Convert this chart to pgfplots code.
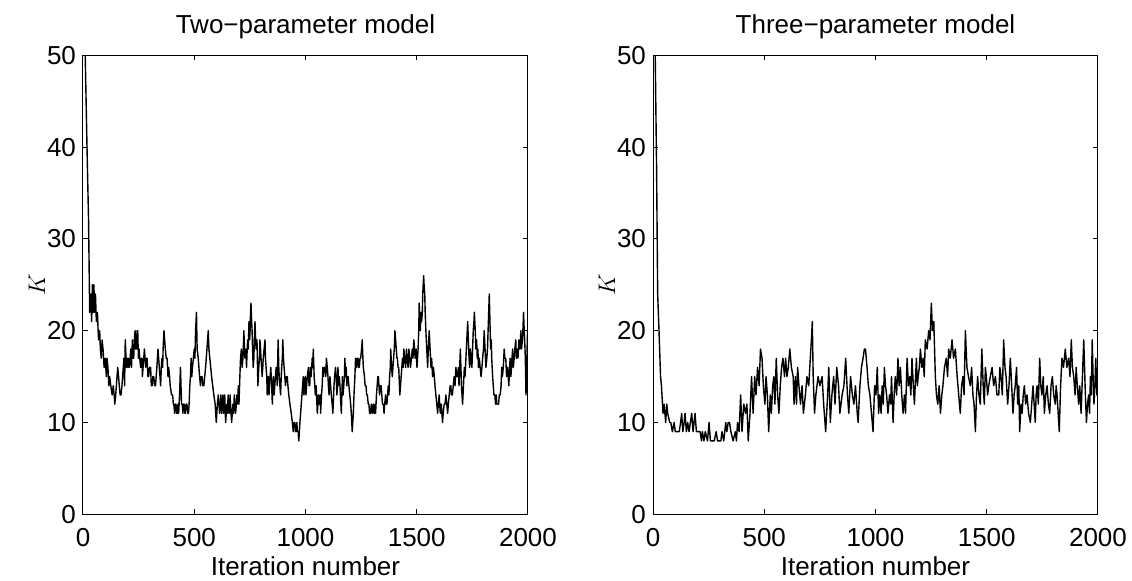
\documentclass[border=0pt]{standalone}
\usepackage{pgfplots}
\pgfplotsset{compat=1.18}
\usepackage{fontspec}
\setmainfont{Liberation Sans}

\pgfplotsset{
  mcmc/.style={
    scale only axis,
    width=222.5pt, height=229.5pt,
    xmin=0, xmax=2000, ymin=0, ymax=50,
    xtick={0,500,1000,1500,2000},
    ytick={0,10,20,30,40,50},
    tick align=inside,
    major tick length=2.6pt,
    axis line style={line width=0.5pt},
    every tick/.style={black, line width=0.5pt},
    /pgf/number format/assume math mode=true,
    /pgf/number format/1000 sep={},
    tick label style={font=\fontsize{13}{15}\selectfont},
    xticklabel style={yshift=-3.5pt},
    label style={font=\fontsize{13}{15}\selectfont},
    title style={font=\fontsize{13}{15}\selectfont, at={(0.5,1)}, anchor=base, yshift=5pt},
    xlabel style={at={(0.5,0)}, anchor=base, yshift=-30.8pt},
    ylabel style={at={(0,0.5)}, anchor=center, rotate=0, yshift=23pt},
    xlabel={Iteration number},
    ylabel={$K$},
    clip=true,
  },
  trace/.style={black, line width=0.7pt, mark=none, line join=round}
}

\begin{document}
\begin{tikzpicture}
\useasboundingbox (-41.5pt,-33.35pt) rectangle (524.5pt,257.15pt);

\begin{axis}[mcmc, at={(0,0)}, anchor=south west, title={Two{\char"2212}parameter model}]
\addplot[trace] coordinates {
(1,70)(10,50)(18,40)(25,32)(30,22)(33,24)(36,23)(39,21)(42,25)(46,22)(49,25)(52,22)(56,24)(60,21)(65,22)(68,20)(70,19)(75,20)(78,18)(82,17)(86,19)(90,18)(95,16)(100,17)(105,15)(108,17)(112,16)(116,14)(120,15)(125,14)(131,13)(136,14)(140,13)(143,12)(147,13)(150,14)(156,16)(160,15)(163,14)(167,13)(171,13)(175,14)(178,15)(184,17)(187,14)(190,19)(195,16)(198,17)(202,16)(205,17)(208,16)(212,17)(215,18)(218,16)(222,19)(225,17)(228,17)(231,19)(234,20)(237,18)(240,18)(243,20)(246,20)(249,17)(252,18)(255,17)(259,16)(262,17)(265,17)(267,15)(270,16)(273,17)(276,18)(279,17)(282,16)(285,17)(288,17)(292,15)(295,15)(299,16)(304,16)(307,14)(311,14)(314,15)(318,15)(322,14)(326,14)(329,15)(332,16)(337,18)(340,17)(343,16)(346,15)(349,14)(352,16)(355,17)(358,16)(360,18)(362,19)(364,20)(367,19)(370,18)(374,17)(378,17)(382,15)(385,16)(389,15)(392,14)(398,13)(403,13)(406,12)(408,12)(412,11)(415,12)(418,12)(421,11)(424,11)(427,12)(430,11)(434,13)(438,16)(443,12)(446,12)(449,11)(452,12)(455,12)(458,11)(460,11)(464,12)(467,12)(471,11)(474,11)(477,12)(480,14)(483,15)(486,17)(489,15)(492,16)(496,17)(500,18)(503,17)(506,20)(510,22)(513,18)(518,17)(521,16)(524,15)(528,14)(531,15)(535,15)(539,14)(543,14)(547,15)(551,16)(554,17)(557,18)(560,19)(563,20)(566,18)(570,17)(574,16)(578,15)(583,14)(588,13)(594,12)(599,10)(604,12)(608,13)(611,12)(614,11)(617,12)(620,13)(623,11)(626,12)(629,13)(632,11)(635,12)(637,13)(641,10)(644,11)(647,12)(650,11)(652,13)(655,12)(658,11)(661,13)(663,12)(668,10)(671,11)(674,12)(677,11)(680,13)(683,12)(686,11)(689,12)(692,13)(695,12)(698,14)(701,12)(705,15)(708,17)(712,18)(715,16)(719,17)(723,20)(726,18)(728,17)(732,18)(735,16)(738,18)(740,19)(743,18)(746,21)(749,19)(751,20)(753,22)(755,23)(758,21)(760,20)(762,18)(765,16)(768,17)(770,19)(773,21)(776,19)(778,18)(782,19)(786,14)(790,16)(793,17)(795,19)(798,18)(800,17)(803,16)(805,15)(808,16)(810,17)(814,18)(818,19)(820,17)(823,16)(826,15)(828,13)(831,14)(833,15)(836,13)(838,14)(841,15)(844,16)(848,14)(851,12)(853,14)(856,15)(859,13)(862,14)(865,15)(868,16)(871,15)(873,14)(877,19)(880,16)(882,15)(885,14)(888,13)(891,15)(893,16)(896,17)(898,19)(901,17)(904,16)(907,15)(910,14)(914,15)(918,15)(921,14)(925,13)(930,12)(936,11)(941,10)(945,9)(948,10)(952,10)(955,9)(958,9)(961,10)(964,9)(967,9)(970,8)(975,10)(978,11)(981,12)(984,13)(987,14)(990,15)(993,13)(996,14)(999,15)(1002,13)(1005,14)(1008,15)(1013,16)(1016,14)(1019,14)(1022,16)(1025,15)(1028,16)(1030,17)(1033,16)(1035,18)(1039,15)(1042,14)(1044,13)(1048,14)(1053,11)(1056,12)(1058,13)(1063,12)(1066,13)(1068,11)(1072,13)(1075,14)(1078,16)(1080,15)(1084,16)(1088,16)(1091,15)(1094,17)(1098,16)(1101,15)(1103,14)(1106,13)(1110,15)(1113,14)(1116,13)(1120,12)(1123,11)(1128,14)(1131,15)(1135,16)(1138,15)(1141,13)(1144,14)(1146,16)(1149,14)(1152,15)(1155,14)(1157,13)(1161,11)(1166,15)(1169,13)(1172,14)(1175,15)(1177,17)(1180,15)(1183,16)(1186,14)(1189,15)(1192,15)(1195,14)(1199,13)(1203,12)(1206,11)(1210,9)(1215,11)(1218,13)(1222,15)(1225,17)(1227,16)(1230,16)(1233,17)(1236,17)(1239,16)(1242,16)(1245,17)(1248,17)(1252,18)(1255,19)(1258,17)(1260,16)(1265,15)(1268,14)(1272,14)(1275,13)(1278,13)(1282,12)(1285,12)(1288,11)(1292,11)(1296,12)(1300,11)(1305,12)(1308,11)(1310,11)(1313,12)(1315,11)(1319,13)(1322,14)(1325,15)(1328,15)(1330,14)(1333,13)(1336,14)(1340,14)(1343,13)(1346,12)(1350,12)(1353,11)(1356,12)(1360,13)(1363,12)(1366,12)(1369,13)(1372,14)(1375,13)(1378,15)(1381,16)(1383,18)(1387,16)(1390,15)(1393,16)(1396,17)(1399,18)(1402,20)(1405,19)(1408,18)(1411,17)(1413,17)(1416,16)(1419,16)(1424,13)(1427,14)(1430,15)(1433,16)(1436,17)(1439,16)(1442,18)(1446,17)(1450,16)(1454,18)(1457,17)(1461,16)(1465,18)(1468,17)(1472,16)(1476,17)(1480,18)(1483,17)(1487,19)(1490,18)(1493,17)(1497,18)(1501,16)(1506,18)(1509,20)(1511,23)(1514,21)(1516,20)(1519,22)(1522,21)(1525,22)(1527,24)(1531,26)(1533,25)(1536,24)(1538,22)(1541,20)(1545,18)(1549,16)(1552,18)(1556,20)(1560,18)(1564,16)(1567,17)(1571,15)(1575,16)(1579,15)(1582,14)(1586,13)(1590,12)(1594,11)(1597,12)(1601,13)(1603,12)(1606,11)(1610,12)(1613,11)(1616,10)(1619,11)(1623,12)(1627,12)(1631,13)(1635,12)(1639,11)(1642,12)(1646,13)(1650,14)(1653,14)(1656,13)(1660,13)(1664,14)(1668,15)(1672,14)(1676,16)(1680,15)(1683,15)(1687,16)(1690,14)(1693,16)(1696,18)(1701,14)(1706,12)(1710,14)(1714,16)(1717,15)(1721,17)(1725,19)(1729,21)(1732,19)(1735,17)(1738,16)(1741,18)(1744,17)(1748,16)(1751,18)(1754,20)(1757,21)(1759,22)(1763,20)(1766,18)(1769,19)(1772,17)(1775,18)(1777,16)(1781,17)(1785,16)(1789,15)(1793,16)(1796,17)(1800,18)(1803,20)(1807,18)(1811,16)(1815,17)(1818,18)(1822,21)(1826,24)(1829,21)(1832,18)(1835,19)(1837,17)(1841,15)(1844,14)(1847,13)(1851,13)(1854,12)(1857,13)(1860,12)(1864,12)(1868,12)(1871,13)(1875,13)(1879,14)(1882,16)(1885,15)(1889,16)(1893,18)(1896,17)(1900,17)(1904,15)(1908,16)(1911,15)(1914,14)(1917,16)(1920,17)(1923,15)(1926,16)(1928,17)(1931,18)(1934,16)(1938,17)(1941,18)(1945,19)(1948,17)(1952,18)(1955,17)(1959,19)(1961,18)(1963,18)(1966,19)(1968,20)(1971,18)(1975,19)(1977,20)(1980,22)(1983,20)(1985,19)(1988,17)(1991,13)(1994,16)(1996,18)(1998,20)(2000,16)
};
\end{axis}

\begin{axis}[mcmc, at={(285pt,0)}, anchor=south west, title={Three{\char"2212}parameter model}]
\addplot[trace] coordinates {
(1,70)(10,50)(16,38)(21,24)(27,20)(34,15)(38,14)(45,11)(50,12)(57,10)(62,12)(66,11)(75,10)(80,10)(87,9)(95,10)(100,9)(110,9)(118,9)(124,10)(129,11)(134,9)(140,10)(144,11)(150,9)(156,10)(162,9)(168,10)(174,11)(180,9)(189,11)(195,9)(205,9)(212,9)(218,8)(222,9)(229,8)(235,9)(245,8)(252,10)(258,8)(265,8)(275,8)(284,9)(290,8)(300,8)(305,8)(310,9)(318,8)(327,10)(332,9)(338,10)(344,10)(350,9)(360,8)(370,9)(375,8)(380,10)(387,9)(394,13)(400,9)(408,12)(416,11)(422,12)(428,8)(436,11)(443,15)(450,11)(457,15)(463,13)(470,16)(477,14)(483,18)(490,17)(496,14)(503,12)(508,15)(514,13)(520,9)(527,13)(532,11)(538,14)(543,15)(548,12)(554,17)(560,13)(566,11)(572,14)(578,16)(584,17)(591,15)(596,17)(602,15)(608,16)(615,18)(622,16)(630,15)(634,12)(640,15)(645,12)(650,16)(656,14)(663,12)(670,14)(676,11)(685,13)(692,15)(700,14)(707,17)(712,19)(716,21)(720,15)(726,11)(732,13)(742,15)(750,14)(760,15)(767,12)(776,9)(785,13)(790,16)(797,10)(804,13)(812,15)(818,12)(826,16)(834,14)(840,11)(850,13)(858,14)(866,17)(874,13)(880,11)(888,15)(896,13)(903,12)(910,14)(918,11)(922,10)(930,14)(937,16)(944,17)(950,18)(955,18)(962,16)(968,14)(975,13)(982,11)(989,9)(996,14)(1002,13)(1008,16)(1014,11)(1020,13)(1025,11)(1030,14)(1035,12)(1040,16)(1045,14)(1050,13)(1056,11)(1063,13)(1068,12)(1072,15)(1079,10)(1084,13)(1089,15)(1095,13)(1101,17)(1106,14)(1112,16)(1118,13)(1124,11)(1130,13)(1135,11)(1142,17)(1148,14)(1154,15)(1159,13)(1164,17)(1170,14)(1175,12)(1180,15)(1184,17)(1188,14)(1192,15)(1197,16)(1202,18)(1208,16)(1214,17)(1219,15)(1224,19)(1232,18)(1239,20)(1245,19)(1251,23)(1256,20)(1262,21)(1269,15)(1274,13)(1280,12)(1286,14)(1292,11)(1298,13)(1303,14)(1310,16)(1318,17)(1324,15)(1329,18)(1336,17)(1344,19)(1351,17)(1359,18)(1367,15)(1374,13)(1381,11)(1387,14)(1393,15)(1398,13)(1404,20)(1411,16)(1418,15)(1426,14)(1432,16)(1438,13)(1443,12)(1449,9)(1454,13)(1459,15)(1465,13)(1471,12)(1478,18)(1484,14)(1489,12)(1494,16)(1498,15)(1504,13)(1509,14)(1516,15)(1524,16)(1531,14)(1539,15)(1546,13)(1554,13)(1559,16)(1564,15)(1570,13)(1576,19)(1582,16)(1587,15)(1594,12)(1600,14)(1606,17)(1612,14)(1618,11)(1623,13)(1628,14)(1634,16)(1639,12)(1644,14)(1648,9)(1654,12)(1659,11)(1664,13)(1669,14)(1675,12)(1681,13)(1688,11)(1696,10)(1702,12)(1708,14)(1713,12)(1718,10)(1722,13)(1726,14)(1732,12)(1738,17)(1743,14)(1748,13)(1754,15)(1759,11)(1765,13)(1771,14)(1777,12)(1783,11)(1789,14)(1795,15)(1801,13)(1808,12)(1812,14)(1816,13)(1821,11)(1826,9)(1832,14)(1838,17)(1845,16)(1853,18)(1860,16)(1868,17)(1874,15)(1880,19)(1885,16)(1891,15)(1897,13)(1902,16)(1907,14)(1913,12)(1918,14)(1924,11)(1930,15)(1936,19)(1942,14)(1948,10)(1953,12)(1958,13)(1962,11)(1966,15)(1970,13)(1974,19)(1978,15)(1982,12)(1986,14)(1990,17)(1995,13)(2000,16)
};
\end{axis}
\end{tikzpicture}
\end{document}
